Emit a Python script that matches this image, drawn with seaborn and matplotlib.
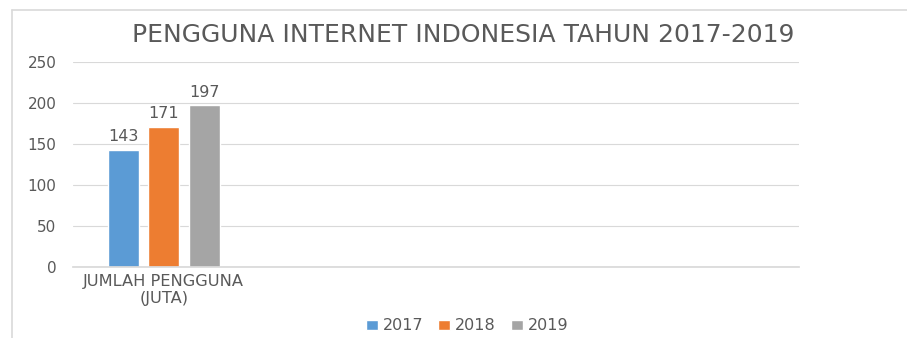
import matplotlib
matplotlib.use("Agg")
import matplotlib.pyplot as plt
from matplotlib.lines import Line2D
import seaborn as sns
import pandas as pd

categories = ["JUMLAH PENGGUNA\n(JUTA)"]
years = ["2017", "2018", "2019"]
values = [143, 171, 197]
title = "PENGGUNA INTERNET INDONESIA TAHUN 2017-2019"
yticks = [0, 50, 100, 150, 200, 250]

colors = ["#5B9BD5", "#ED7D31", "#A5A5A5"]
txt = "#595959"

df = pd.DataFrame({"cat": categories * len(years), "year": years, "val": values})

sns.set_theme(style="white")
plt.rcParams["font.family"] = ["DejaVu Sans"]

fig = plt.figure(figsize=(9.07, 3.38), dpi=100)
ax = fig.add_axes([73/907, 1-267/338, (799-73)/907, (267-62)/338])

sns.barplot(data=df, x="cat", y="val", hue="year", palette=colors,
            width=0.67, gap=0.23, ax=ax, legend=True, saturation=1)

ax.set_xlim(-0.5, 3.5)
ax.set_ylim(0, 250)
ax.set_yticks(yticks)
ax.yaxis.grid(True, color="#D9D9D9", linewidth=0.8)
ax.set_axisbelow(True)
for s in ["top", "right", "left"]:
    ax.spines[s].set_visible(False)
ax.spines["bottom"].set_color("#D9D9D9")
ax.tick_params(axis="both", length=0, colors=txt)
ax.tick_params(axis="y", pad=12, labelsize=11)
ax.tick_params(axis="x", pad=5, labelsize=11.7)
ax.set_xlabel("")
ax.set_ylabel("")

for c in ax.containers:
    ax.bar_label(c, padding=4, color=txt, fontsize=11.5)

fig.text(463/907, 1-35/338, title, ha="center", va="center", fontsize=18,
         color=txt)

handles, labels = ax.get_legend_handles_labels()
ax.get_legend().remove()
fig.legend(handles, labels, loc="center", bbox_to_anchor=(467/907, 1-326/338),
           ncol=3, frameon=False, fontsize=11.5, handlelength=0.75, handleheight=0.6,
           handletextpad=0.3, columnspacing=0.95, labelcolor=txt)

fig.add_artist(Line2D([12/907, 1], [1-10/338, 1-10/338], color="#D9D9D9", linewidth=1.2))
fig.add_artist(Line2D([12/907, 12/907], [0, 1-10/338], color="#D9D9D9", linewidth=1.2))

fig.savefig("out.png", dpi=100)
